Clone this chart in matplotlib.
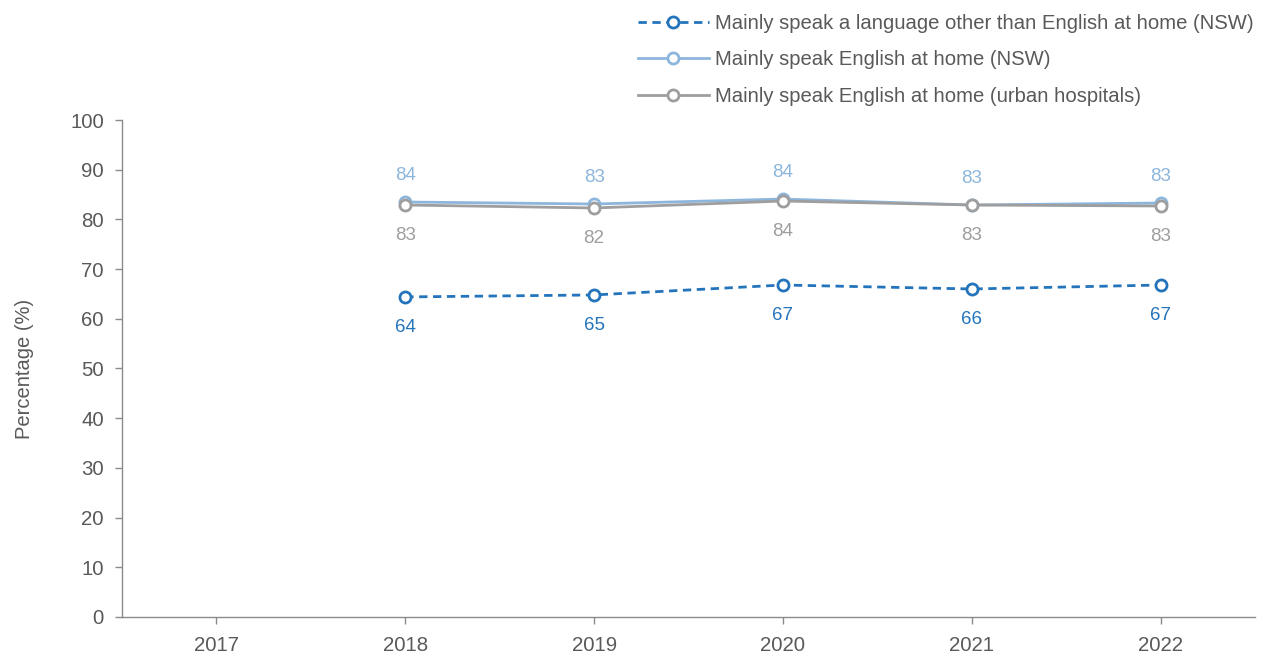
import matplotlib.pyplot as plt
from matplotlib.lines import Line2D

plt.rcParams['font.family'] = ['Liberation Sans', 'DejaVu Sans']

years = ['2017', '2018', '2019', '2020', '2021', '2022']
lote_nsw = [None, 64.4, 64.8, 66.8, 66.0, 66.8]
eng_nsw = [None, 83.5, 83.1, 84.1, 82.9, 83.3]
eng_urban = [None, 82.9, 82.3, 83.7, 82.9, 82.7]

lote_labels = [None, '64', '65', '67', '66', '67']
eng_nsw_labels = [None, '84', '83', '84', '83', '83']
eng_urban_labels = [None, '83', '82', '84', '83', '83']

c_lote = '#2474bb'
c_nsw = '#8db6dc'
c_urban = '#9e9e9e'
c_text = '#595959'
c_axis = '#8a8a8a'

fig = plt.figure(figsize=(12.67, 6.54), dpi=100)
ax = fig.add_axes([0.0963, 0.0566, 0.8942, 0.7599])

x = list(range(len(years)))


def series(vals):
    xs = [i for i, v in zip(x, vals) if v is not None]
    ys = [v for v in vals if v is not None]
    return xs, ys


mk = dict(marker='o', markersize=8, markerfacecolor='white', markeredgewidth=2)
lw = 2.0

xs, ys = series(eng_nsw)
ax.plot(xs, ys, color=c_nsw, lw=lw, markeredgecolor=c_nsw, zorder=3, **mk)
xs, ys = series(eng_urban)
ax.plot(xs, ys, color=c_urban, lw=lw, markeredgecolor=c_urban, zorder=4, **mk)
xs, ys = series(lote_nsw)
ax.plot(xs, ys, color=c_lote, lw=lw, ls=(0, (3, 2)), markeredgecolor=c_lote, zorder=5, **mk)

# value labels
for i in x:
    if eng_nsw[i] is not None:
        ax.annotate(eng_nsw_labels[i], (i, eng_nsw[i]), xytext=(0, 19), textcoords='offset points',
                    ha='center', va='center', fontsize=13.5, color=c_nsw)
    if eng_urban[i] is not None:
        ax.annotate(eng_urban_labels[i], (i, eng_urban[i]), xytext=(0, -22), textcoords='offset points',
                    ha='center', va='center', fontsize=13.5, color=c_urban)
    if lote_nsw[i] is not None:
        ax.annotate(lote_labels[i], (i, lote_nsw[i]), xytext=(0, -22), textcoords='offset points',
                    ha='center', va='center', fontsize=13.5, color=c_lote)

ax.set_xlim(-0.5, 5.5)
ax.set_ylim(0, 100)
ax.set_yticks(range(0, 101, 10))
ax.set_xticks(x)
ax.set_xticklabels(years)
ax.tick_params(axis='both', colors=c_axis, labelcolor=c_text, labelsize=14.7, length=5, width=1)
ax.tick_params(axis='x', pad=8.5)
ax.tick_params(axis='y', pad=8)
for side in ['top', 'right']:
    ax.spines[side].set_visible(False)
for side in ['left', 'bottom']:
    ax.spines[side].set_color(c_axis)
    ax.spines[side].set_linewidth(1)
ax.set_ylabel('Percentage (%)', fontsize=14.5, color=c_text, labelpad=26)

handles = [
    Line2D([], [], color=c_lote, lw=lw, ls=(0, (3, 2)), markeredgecolor=c_lote, **mk),
    Line2D([], [], color=c_nsw, lw=lw, markeredgecolor=c_nsw, **mk),
    Line2D([], [], color=c_urban, lw=lw, markeredgecolor=c_urban, **mk),
]
names = [
    'Mainly speak a language other than English at home (NSW)',
    'Mainly speak English at home (NSW)',
    'Mainly speak English at home (urban hospitals)',
]
fig.legend(handles, names, loc='upper left', bbox_to_anchor=(0.492, 1.0), frameon=False,
           fontsize=14.6, labelcolor=c_text, handlelength=3.5, handletextpad=0.3,
           labelspacing=0.85, borderaxespad=0.3)

fig.savefig('out.png', dpi=100)
